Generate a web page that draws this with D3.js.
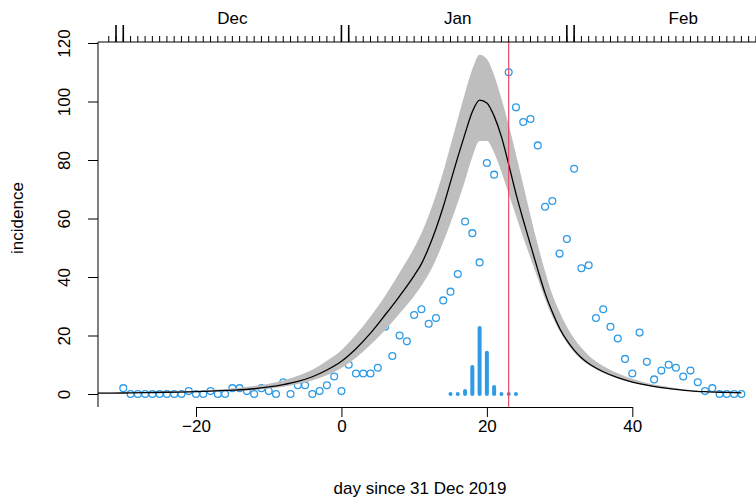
<!DOCTYPE html>
<html>
<head>
<meta charset="utf-8">
<script src="https://cdn.jsdelivr.net/npm/d3@7"></script>
<style>
  html, body { margin: 0; padding: 0; background: #fff; }
  svg { display: block; }
  text { font-family: "Liberation Sans", Arial, Helvetica, sans-serif; }
</style>
</head>
<body>
<div id="chart"></div>
<script>
// ---------- DATA ----------
// observed daily incidence (day since 31 Dec 2019)
const obsDays = d3.range(-30, 56);
const obsValues = [
  2, 0, 0, 0, 0, 0, 0, 0, 0, 1,      // -30 .. -21
  0, 0, 1, 0, 0, 2, 2, 1, 0, 2,      // -20 .. -11
  1, 0, 4, 0, 3, 3, 0, 1, 3, 6,      // -10 .. -1
  1, 10, 7, 7, 7, 9, 23, 13, 20, 18, // 0 .. 9
  27, 29, 24, 26, 32, 35, 41, 59, 55, 45, // 10 .. 19
  79, 75, 85, 110, 98, 93, 94, 85, 64, 66, // 20 .. 29
  48, 53, 77, 43, 44, 26, 29, 23, 19, 12,  // 30 .. 39
  7, 21, 11, 5, 8, 10, 9, 6, 8, 4,         // 40 .. 49
  1, 2, 0, 0, 0, 0                          // 50 .. 55
];

// model fit: median and uncertainty band
const modelDays = [-34, -30, -27, -24, -21, -18, -15, -12, -10, -8, -6, -4, -2, 0, 2, 4, 6, 8, 10, 11, 12, 13, 14, 15, 16, 17, 18, 19, 20, 21, 22, 23, 24, 25, 26, 27, 28, 29, 30, 31, 32, 33, 34, 36, 38, 40, 42, 44, 46, 48, 50, 52, 55];
const modelMid = [0.3, 0.35, 0.45, 0.6, 0.75, 1.0, 1.3, 1.8, 2.4, 3.2, 4.3, 5.9, 8.2, 11.2, 15.5, 20.8, 27, 33.5, 40.5, 44.5, 50, 56.5, 64, 72.5, 81, 89, 96.5, 100.5, 99.5, 95, 88, 78.5, 68.5, 59.5, 51, 42.5, 34.5, 28, 22.5, 18.3, 15, 12.4, 10.4, 7.6, 5.6, 4.1, 3.0, 2.2, 1.6, 1.1, 0.8, 0.6, 0.4];
const modelUpper = [0.4, 0.5, 0.6, 0.8, 1.0, 1.4, 1.9, 2.7, 3.5, 4.6, 6.2, 8.3, 11.4, 15, 20.3, 26.5, 33.5, 41.5, 50, 55, 61, 68, 76, 85, 94, 103, 111, 116, 114.5, 109, 101, 92, 82, 71.5, 61, 51, 42, 34, 28, 23, 19, 15.8, 13.2, 9.6, 7.1, 5.2, 3.8, 2.8, 2.0, 1.4, 1.0, 0.75, 0.5];
const modelLower = [0.25, 0.3, 0.38, 0.5, 0.62, 0.82, 1.0, 1.4, 1.85, 2.5, 3.4, 4.6, 6.4, 8.9, 12.4, 16.8, 21.8, 27.5, 33.5, 37, 41, 46, 52, 58.5, 65.5, 73, 81, 86.5, 86.5, 82.5, 76, 68.5, 61, 53.5, 46.5, 39.5, 32.5, 26.5, 21.5, 17.5, 14.3, 11.8, 9.9, 7.2, 5.3, 3.9, 2.8, 2.0, 1.45, 1.0, 0.72, 0.5, 0.3];

// serial interval / infectiousness profile drawn as spikes
const spikeDays = [15, 16, 17, 18, 19, 20, 21, 22, 23, 24];
const spikeValues = [0, 0, 1.0, 9.2, 22.6, 14.1, 2.4, 0, 0, 0];

// reference day (red line)
const refDay = 23;

// axis ticks & labels
const xTicks = [-20, 0, 20, 40];
const yTicks = [0, 20, 40, 60, 80, 100, 120];
const monthNames = ["Dec", "Jan", "Feb"];
const monthCenters = [-15, 16, 47];
const monthBoundaryDays = [-31, -30, 0, 1, 31, 32];
const xLabel = "day since 31 Dec 2019";
const yLabel = "incidence";

// ---------- LAYOUT ----------
const W = 756, H = 500;
const plotLeft = 98, plotTop = 42, plotBottom = 407, plotRight = 756;
const BLUE = "#2e9be6", RED = "#ec3d5f", BAND = "#bebebe";

const x = d3.scaleLinear().domain([-20, 40]).range([196, 632.3]);
const y = d3.scaleLinear().domain([0, 120]).range([394, 43]);

const svg = d3.select("#chart").append("svg")
  .attr("width", W).attr("height", H);

svg.append("defs").append("clipPath").attr("id", "clip")
  .append("rect").attr("x", plotLeft).attr("y", plotTop)
  .attr("width", plotRight - plotLeft).attr("height", plotBottom - plotTop);

const plot = svg.append("g").attr("clip-path", "url(#clip)");

// observed points
plot.append("g").selectAll("circle")
  .data(obsDays.map((d, i) => [d, obsValues[i]]))
  .join("circle")
  .attr("cx", d => x(d[0])).attr("cy", d => y(d[1]))
  .attr("r", 3.4)
  .attr("fill", "none").attr("stroke", BLUE).attr("stroke-width", 1.3);

// band
const bandData = modelDays.map((d, i) => ({ d, lo: modelLower[i], hi: modelUpper[i], m: modelMid[i] }));
plot.append("path")
  .datum(bandData)
  .attr("fill", BAND)
  .attr("d", d3.area().x(p => x(p.d)).y0(p => y(p.lo)).y1(p => y(p.hi)).curve(d3.curveMonotoneX));

// median line
plot.append("path")
  .datum(bandData)
  .attr("fill", "none").attr("stroke", "#000").attr("stroke-width", 1.3)
  .attr("d", d3.line().x(p => x(p.d)).y(p => y(p.m)).curve(d3.curveMonotoneX));

// spikes
plot.append("g").selectAll("line")
  .data(spikeDays.map((d, i) => [d, spikeValues[i]]))
  .join("line")
  .attr("x1", d => x(d[0])).attr("x2", d => x(d[0]))
  .attr("y1", y(0)).attr("y2", d => y(d[1]))
  .attr("stroke", BLUE).attr("stroke-width", 4).attr("stroke-linecap", "round");

// red reference line
plot.append("line")
  .attr("x1", x(refDay)).attr("x2", x(refDay))
  .attr("y1", plotTop).attr("y2", plotBottom)
  .attr("stroke", RED).attr("stroke-width", 1.1);

// ---------- AXES ----------
const fontSize = 17;

// left axis line (full height)
svg.append("line")
  .attr("x1", plotLeft).attr("x2", plotLeft)
  .attr("y1", plotTop).attr("y2", plotBottom)
  .attr("stroke", "#000").attr("stroke-width", 1);

const yAxis = svg.append("g")
  .attr("transform", `translate(${plotLeft},0)`)
  .call(d3.axisLeft(y).tickValues(yTicks).tickSize(10).tickSizeOuter(0).tickFormat(d3.format("d")));
yAxis.select(".domain").remove();
yAxis.selectAll("line").attr("stroke", "#000");
yAxis.selectAll("text")
  .attr("font-size", fontSize).attr("fill", "#000")
  .attr("x", null).attr("dy", null)
  .attr("text-anchor", "middle")
  .attr("transform", "translate(-28,0) rotate(-90)");

// bottom axis
const xAxis = svg.append("g")
  .attr("transform", `translate(0,${plotBottom})`)
  .call(d3.axisBottom(x).tickValues(xTicks).tickSize(10).tickSizeOuter(0).tickPadding(6));
xAxis.select(".domain").attr("stroke", "#000");
xAxis.selectAll("line").attr("stroke", "#000");
xAxis.selectAll("text").attr("font-size", fontSize).attr("fill", "#000").attr("dy", "0.71em").attr("y", 13);

// top axis: daily minor ticks + month boundary ticks
const dayTicks = d3.range(-32, 58);
const topG = svg.append("g").attr("transform", `translate(0,${plotTop})`);
topG.append("line")
  .attr("x1", plotLeft).attr("x2", plotRight)
  .attr("y1", 0).attr("y2", 0).attr("stroke", "#000").attr("stroke-width", 1.2);
topG.selectAll("line.minor")
  .data(dayTicks)
  .join("line").attr("class", "minor")
  .attr("x1", d => x(d)).attr("x2", d => x(d))
  .attr("y1", 0).attr("y2", -6)
  .attr("stroke", "#000").attr("stroke-width", 1);
topG.selectAll("line.major")
  .data(monthBoundaryDays)
  .join("line").attr("class", "major")
  .attr("x1", d => x(d)).attr("x2", d => x(d))
  .attr("y1", 0).attr("y2", -17)
  .attr("stroke", "#000").attr("stroke-width", 1.6);
svg.append("g").selectAll("text")
  .data(monthNames)
  .join("text")
  .attr("x", (d, i) => x(monthCenters[i]))
  .attr("y", 24)
  .attr("text-anchor", "middle")
  .attr("font-size", fontSize)
  .text(d => d);

// axis titles
svg.append("text")
  .attr("x", 420).attr("y", 494)
  .attr("text-anchor", "middle").attr("font-size", fontSize)
  .text(xLabel);
svg.append("text")
  .attr("transform", "translate(23,218) rotate(-90)")
  .attr("text-anchor", "middle").attr("font-size", fontSize)
  .text(yLabel);
</script>
</body>
</html>
